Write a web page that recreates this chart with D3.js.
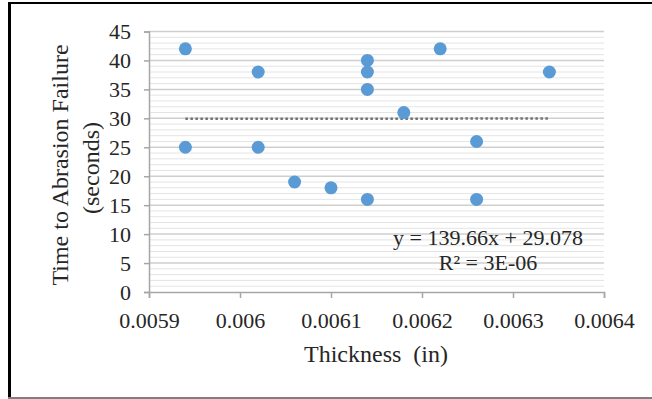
<!DOCTYPE html>
<html>
<head>
<meta charset="utf-8">
<script src="https://cdn.jsdelivr.net/npm/d3@7"></script>
<style>
  body { margin: 0; background: #fff; }
  text { font-family: "Liberation Serif", "Times New Roman", serif; fill: #262626; }
</style>
</head>
<body>
<div id="chart"></div>
<script>
// data
var thickness = [0.00594, 0.00594, 0.00602, 0.00602, 0.00606, 0.0061, 0.00614, 0.00614, 0.00614, 0.00614, 0.00618, 0.00622, 0.00626, 0.00626, 0.00634];
var seconds = [42, 25, 38, 25, 19, 18, 40, 38, 35, 16, 31, 42, 26, 16, 38];
var xTicks = [0.0059, 0.006, 0.0061, 0.0062, 0.0063, 0.0064];
var xTickLabels = ["0.0059", "0.006", "0.0061", "0.0062", "0.0063", "0.0064"];
var yTicks = [0, 5, 10, 15, 20, 25, 30, 35, 40, 45];
var yMinor = d3.range(1, 45).filter(d => d % 5 !== 0);
var slope = 139.66;
var intercept = 29.078;

var svgWidth = 652;
var svgHeight = 399;
var serif = '"Liberation Serif", "Times New Roman", serif';

var svg = d3.select("#chart")
  .append("svg")
  .attr("width", svgWidth)
  .attr("height", svgHeight)
  .attr("font-family", serif);

// frame
svg.append("line").attr("x1", 9.5).attr("x2", 9.5).attr("y1", 2).attr("y2", 399)
  .attr("stroke", "#000").attr("stroke-width", 3);
svg.append("line").attr("x1", 8).attr("x2", 652).attr("y1", 3).attr("y2", 3)
  .attr("stroke", "#000").attr("stroke-width", 2);
svg.append("line").attr("x1", 8).attr("x2", 652).attr("y1", 398).attr("y2", 398)
  .attr("stroke", "#7f7f7f").attr("stroke-width", 2);

var xScale = d3.scaleLinear().domain([0.0059, 0.0064]).range([149, 604]);
var yScale = d3.scaleLinear().domain([0, 45]).range([292, 31.5]);

// minor gridlines
svg.append("g").selectAll("line")
  .data(yMinor)
  .enter()
  .append("line")
  .attr("x1", xScale(0.0059)).attr("x2", xScale(0.0064))
  .attr("y1", d => yScale(d)).attr("y2", d => yScale(d))
  .attr("stroke", "#e4e4e4").attr("stroke-width", 1);

// major gridlines
svg.append("g").selectAll("line")
  .data(yTicks.slice(1))
  .enter()
  .append("line")
  .attr("x1", xScale(0.0059)).attr("x2", xScale(0.0064))
  .attr("y1", d => yScale(d)).attr("y2", d => yScale(d))
  .attr("stroke", "#cfcfcf").attr("stroke-width", 1.5);

// axes
var bottomAxis = d3.axisBottom(xScale)
  .tickValues(xTicks)
  .tickFormat((d, i) => xTickLabels[i])
  .tickSizeOuter(0)
  .tickSize(6)
  .tickPadding(14);
var leftAxis = d3.axisLeft(yScale)
  .tickValues(yTicks)
  .tickSizeOuter(0)
  .tickSize(5)
  .tickPadding(13);

var gx = svg.append("g")
  .attr("transform", `translate(0, ${yScale(0)})`)
  .call(bottomAxis);
var gy = svg.append("g")
  .attr("transform", `translate(${xScale(0.0059)}, 0)`)
  .call(leftAxis);

[gx, gy].forEach(function(g) {
  g.attr("font-family", serif).attr("font-size", 22);
  g.select(".domain").attr("stroke", "#a6a6a6").attr("stroke-width", 1.5);
  g.selectAll(".tick line").attr("stroke", "#a6a6a6").attr("stroke-width", 1.5);
  g.selectAll(".tick text").attr("fill", "#404040");
});

// trendline
var xMin = d3.min(thickness), xMax = d3.max(thickness);
svg.append("line")
  .attr("x1", xScale(xMin)).attr("x2", xScale(xMax))
  .attr("y1", yScale(slope * xMin + intercept))
  .attr("y2", yScale(slope * xMax + intercept))
  .attr("stroke", "#737373")
  .attr("stroke-width", 2.5)
  .attr("stroke-dasharray", "2.5,2.5");

// points
svg.append("g").selectAll("circle")
  .data(thickness)
  .enter()
  .append("circle")
  .attr("cx", d => xScale(d))
  .attr("cy", (d, i) => yScale(seconds[i]))
  .attr("r", 6.5)
  .attr("fill", "#5b9bd5");

// equation
svg.append("text")
  .attr("x", 488).attr("y", 245)
  .attr("text-anchor", "middle")
  .attr("font-size", 22)
  .text("y = 139.66x + 29.078");
svg.append("text")
  .attr("x", 488).attr("y", 270)
  .attr("text-anchor", "middle")
  .attr("font-size", 22)
  .text("R² = 3E-06");

// axis titles
svg.append("text")
  .attr("x", 376).attr("y", 362)
  .attr("text-anchor", "middle")
  .attr("font-size", 24)
  .style("white-space", "pre")
  .text("Thickness  (in)");

svg.append("text")
  .attr("transform", "translate(68, 165) rotate(-90)")
  .attr("text-anchor", "middle")
  .attr("font-size", 24)
  .text("Time to Abrasion Failure");
svg.append("text")
  .attr("transform", "translate(99, 168) rotate(-90)")
  .attr("text-anchor", "middle")
  .attr("font-size", 24)
  .text("(seconds)");
</script>
</body>
</html>
